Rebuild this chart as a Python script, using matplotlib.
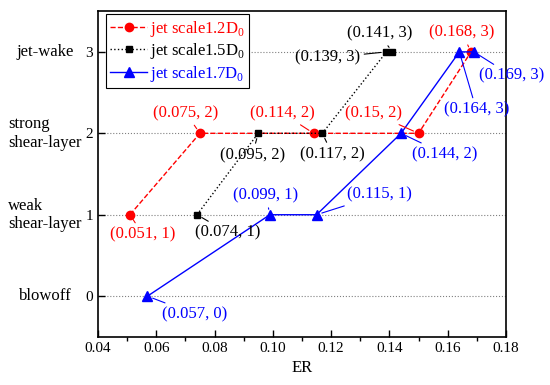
import numpy as np
import matplotlib
matplotlib.use('Agg')
import matplotlib.pyplot as plt
from matplotlib.ticker import MultipleLocator, FormatStrFormatter
from matplotlib.transforms import blended_transform_factory

plt.rcParams['font.family'] = 'Liberation Serif'
plt.rcParams['mathtext.fontset'] = 'custom'
plt.rcParams['mathtext.rm'] = 'Liberation Serif'

# data
er_12 = [0.051, 0.075, 0.114, 0.15, 0.168]
st_12 = [1, 2, 2, 2, 3]
er_15 = [0.074, 0.095, 0.117, 0.139, 0.141]
st_15 = [1, 2, 2, 3, 3]
er_17 = [0.057, 0.099, 0.115, 0.144, 0.164, 0.169]
st_17 = [0, 1, 1, 2, 3, 3]

labels = ['jet scale1.2D$_0$', 'jet scale1.5D$_0$', 'jet scale1.7D$_0$']
state_names = ['blowoff', 'weak\nshear-layer', 'strong\nshear-layer', 'jet-wake']

# label offsets in pixels (dx, dy up)
off_12 = [(13, -20), (-14, 20), (-31, 20), (-45, 20), (-9, 19)]
off_15 = [(31, -18), (-6, -22), (10, -21), (-59, -6), (-13, 18)]
off_17 = [(47, -18), (-4, 19), (63, 20), (44, -21), (17, -58), (38, -24)]

fig = plt.figure(figsize=(5.5, 3.85), dpi=100)
ax = fig.add_axes([0.178, 0.125, 0.742, 0.846])

ax.plot(er_12, st_12, '--', color='red', marker='o', ms=6, lw=1, label=labels[0])
ax.plot(er_15, st_15, ':', color='black', marker='s', ms=5, lw=1, label=labels[1])
ax.plot(er_17, st_17, '-', color='blue', marker='^', ms=7, lw=1, label=labels[2])

def tag(xs, ys, offs, c):
    for x, y, (dx, dy) in zip(xs, ys, offs):
        ax.annotate('(%g, %d)' % (x, y), (x, y), xytext=(dx, dy),
                    textcoords='offset pixels', ha='center', va='center',
                    color=c, fontsize=12,
                    arrowprops=dict(arrowstyle='-', color=c, lw=0.8,
                                    shrinkA=1, shrinkB=4))

tag(er_12, st_12, off_12, 'red')
tag(er_15, st_15, off_15, 'black')
tag(er_17, st_17, off_17, 'blue')

ax.set_xlim(0.04, 0.18)
ax.set_ylim(-0.5, 3.5)
ax.xaxis.set_major_locator(MultipleLocator(0.02))
ax.xaxis.set_minor_locator(MultipleLocator(0.01))
ax.xaxis.set_major_formatter(FormatStrFormatter('%.2f'))
ax.set_yticks([0, 1, 2, 3])
ax.tick_params(direction='in', labelsize=11)
ax.tick_params(which='major', length=5, width=1)
ax.tick_params(which='minor', length=3, width=1)
ax.grid(axis='y', color='gray', ls=':', lw=0.8)
for s in ax.spines.values():
    s.set_linewidth(1.2)
ax.set_xlabel('ER', fontsize=12)

tr = blended_transform_factory(fig.transFigure, ax.transData)
for i, name in enumerate(state_names):
    ax.text(0.082, i, name, transform=tr, ha='center', va='center',
            fontsize=12, multialignment='left')

leg = ax.legend(loc='upper left', bbox_to_anchor=(0.02, 0.99), fontsize=12,
                handlelength=2.2, fancybox=False, edgecolor='black',
                framealpha=1, borderaxespad=0, labelspacing=0.15,
                handletextpad=0.2, borderpad=0.25)
leg.get_frame().set_linewidth(0.8)
for t, c in zip(leg.get_texts(), ['red', 'black', 'blue']):
    t.set_color(c)

fig.savefig('out.png', dpi=100)
